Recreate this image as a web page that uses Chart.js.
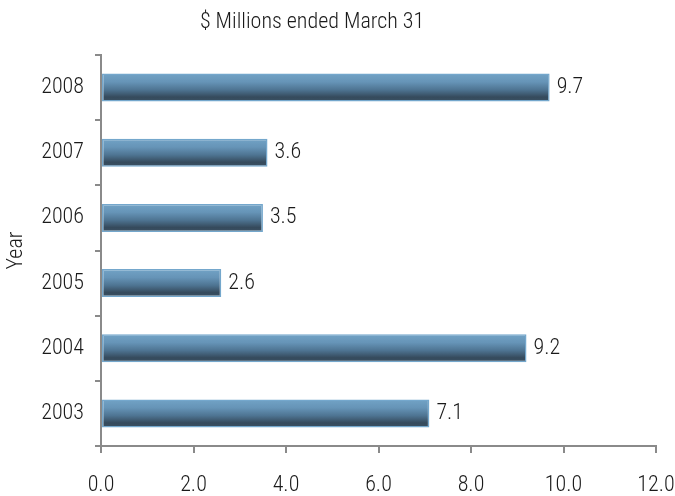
<!DOCTYPE html>
<html>
<head>
<meta charset="utf-8">
<script src="https://cdn.jsdelivr.net/npm/chart.js@4/dist/chart.umd.min.js"></script>
<style>
  html, body { margin: 0; padding: 0; background: #ffffff; }
  #wrap { width: 675px; height: 496px; position: relative; }
</style>
</head>
<body>
<div id="wrap"><canvas id="chart"></canvas></div>
<script>
// Fiscal years (top to bottom) and amounts in $ millions
const years = ['2008', '2007', '2006', '2005', '2004', '2003'];
const amounts = [9.7, 3.6, 3.5, 2.6, 9.2, 7.1];
const xTicks = { min: 0, max: 12, step: 2 };
const chartTitle = '$ Millions ended March 31';
const axisTitle = 'Year';

const FONT = "'Roboto Condensed', 'DejaVu Sans Condensed', sans-serif";
const WEIGHT = 300;
const TEXT = '#1a1a1a';
const AXIS_GREY = '#8a8a8a';
const BAR_PCT = 0.43;

// Vertical shading for each bar, built from its category band on the y scale
function barFill(ctx) {
  const chart = ctx.chart;
  const y = chart.scales.y;
  if (!chart.chartArea || !y || ctx.dataIndex === undefined) return '#56809f';
  const centre = y.getPixelForValue(ctx.dataIndex);
  const band = Math.abs(y.getPixelForValue(1) - y.getPixelForValue(0));
  const half = band * BAR_PCT / 2;
  const g = chart.ctx.createLinearGradient(0, centre - half, 0, centre + half);
  g.addColorStop(0, '#72a3c6');
  g.addColorStop(0.3, '#6694b7');
  g.addColorStop(0.58, '#4e7492');
  g.addColorStop(0.84, '#354a5c');
  g.addColorStop(1, '#3b5163');
  return g;
}

// Value labels just past the end of each bar
const valueLabels = {
  id: 'valueLabels',
  afterDatasetsDraw(chart) {
    const c = chart.ctx;
    const meta = chart.getDatasetMeta(0);
    c.save();
    c.font = WEIGHT + ' 22px ' + FONT;
    c.fillStyle = TEXT;
    c.textAlign = 'left';
    c.textBaseline = 'middle';
    meta.data.forEach((bar, i) => {
      c.fillText(amounts[i].toFixed(1), bar.x + 7, bar.y);
    });
    c.restore();
  }
};

// Heading line above the plot
const heading = {
  id: 'heading',
  afterDraw(chart) {
    const c = chart.ctx;
    c.save();
    c.font = WEIGHT + ' 22px ' + FONT;
    c.fillStyle = TEXT;
    c.textAlign = 'center';
    c.textBaseline = 'middle';
    c.fillText(chartTitle, 312, 22);
    c.restore();
  }
};

new Chart(document.getElementById('chart'), {
  type: 'bar',
  data: {
    labels: years,
    datasets: [{
      data: amounts,
      backgroundColor: barFill,
      borderColor: '#74a7cc',
      borderWidth: 1.5,
      borderSkipped: false,
      barPercentage: BAR_PCT,
      categoryPercentage: 1
    }]
  },
  options: {
    indexAxis: 'y',
    responsive: true,
    maintainAspectRatio: false,
    animation: false,
    layout: { padding: { left: 0, right: 19, top: 55, bottom: 0 } },
    plugins: {
      legend: { display: false },
      tooltip: { enabled: false },
      title: { display: false }
    },
    scales: {
      x: {
        min: xTicks.min,
        max: xTicks.max,
        ticks: {
          stepSize: xTicks.step,
          color: TEXT,
          font: { family: FONT, size: 22, weight: WEIGHT },
          padding: 19,
          callback: v => Number(v).toFixed(1)
        },
        grid: { drawOnChartArea: false, color: AXIS_GREY, lineWidth: 2, tickLength: 7 },
        border: { color: AXIS_GREY, width: 2 },
        afterFit: s => { s.height = 50; s.paddingRight = 0; s.paddingLeft = 0; }
      },
      y: {
        offset: true,
        ticks: {
          color: TEXT,
          font: { family: FONT, size: 22, weight: WEIGHT },
          padding: 11
        },
        grid: { offset: true, drawOnChartArea: false, color: AXIS_GREY, lineWidth: 2, tickLength: 6 },
        border: { color: AXIS_GREY, width: 2 },
        title: {
          display: true,
          text: axisTitle,
          color: TEXT,
          font: { family: FONT, size: 22, weight: WEIGHT },
          padding: { top: 3, bottom: 8 }
        },
        afterFit: s => { s.width = 101; s.paddingTop = 0; s.paddingBottom = 0; }
      }
    }
  },
  plugins: [valueLabels, heading]
});
</script>
</body>
</html>
